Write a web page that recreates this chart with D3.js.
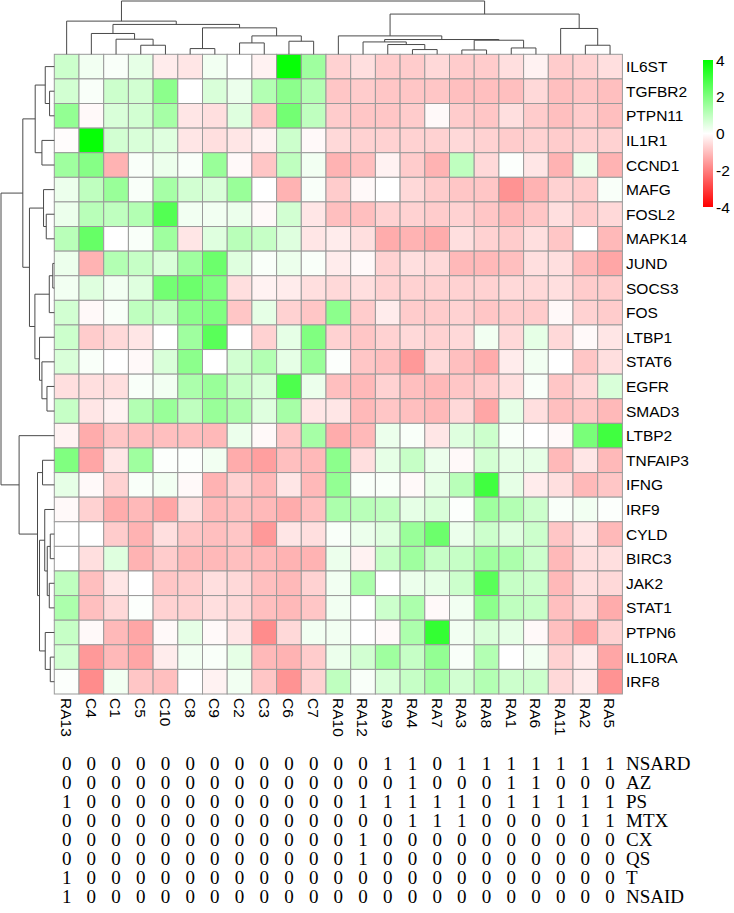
<!DOCTYPE html>
<html><head><meta charset="utf-8">
<script src="https://cdn.jsdelivr.net/npm/d3@7"></script>
<style>body{margin:0;background:#fff}svg{display:block}</style>
</head><body>
<script>
// ---------- data ----------
const samples = ["RA13","C4","C1","C5","C10","C8","C9","C2","C3","C6","C7","RA10","RA12","RA9","RA4","RA7","RA3","RA8","RA1","RA6","RA11","RA2","RA5"];
const genes = ["IL6ST","TGFBR2","PTPN11","IL1R1","CCND1","MAFG","FOSL2","MAPK14","JUND","SOCS3","FOS","LTBP1","STAT6","EGFR","SMAD3","LTBP2","TNFAIP3","IFNG","IRF9","CYLD","BIRC3","JAK2","STAT1","PTPN6","IL10RA","IRF8"];

const vIL6ST  = [0.8,0.2,0.1,0.4,-0.3,-0.4,0.2,0.0,-0.2,3.9,1.5, -0.7,-0.5,-0.8,-0.8,-0.6,-0.8,-0.8,-0.5,-0.2,-0.8,-0.7,-0.5];
const vTGFBR2 = [0.7,0.1,0.8,0.7,1.8,0.0,0.6,0.3,1.2,1.8,1.2, -0.9,-0.8,-0.9,-0.9,-0.9,-1.0,-1.0,-1.0,-0.6,-1.0,-0.9,-1.0];
const vPTPN11 = [1.7,-0.1,0.6,0.7,1.4,-0.4,-0.5,0.5,-0.9,2.2,1.0, -0.8,-0.9,-0.9,-0.8,-0.1,-0.8,-0.9,-0.5,-0.8,-1.0,-0.8,-1.0];
const vIL1R1  = [-0.05,3.9,0.7,0.6,0.5,-0.4,-0.5,-0.4,-0.2,0.8,-0.1, -0.6,-0.7,-0.7,-0.7,-0.7,-0.6,-0.7,-0.8,-0.7,-0.8,-0.7,-0.7];
const vCCND1  = [1.5,1.9,-1.2,0.1,0.3,0.1,1.6,-0.1,-0.9,1.0,0.2, -1.2,-1.0,-0.2,-0.8,-1.2,1.0,-0.6,0.05,-0.4,-1.2,0.3,-1.2];
const vMAFG   = [0.3,1.0,1.6,0.1,1.4,0.7,0.6,1.6,0.0,-1.2,0.1, -0.8,-0.1,0.0,-0.6,-0.8,-0.9,-0.9,-1.7,-1.2,-0.7,-0.8,0.1];
const vFOSL2  = [0.3,1.1,1.0,1.2,2.7,0.2,0.2,0.3,-0.1,0.7,-0.4, -1.0,-1.0,-0.7,-0.7,-0.8,-0.7,-0.9,-1.1,-0.9,-0.5,-0.8,-0.6];
const vMAPK14 = [1.1,2.4,0.0,0.1,1.5,-0.4,0.5,1.1,0.9,0.5,-0.4, -0.3,-0.5,-1.3,-1.2,-1.3,-0.5,-0.7,-0.8,-0.5,-0.9,0.0,-1.1];
const vJUND   = [0.3,-1.2,1.2,0.9,0.6,1.5,2.3,0.5,0.1,0.3,0.1, -0.3,-0.1,-0.7,-0.5,-0.6,-1.1,-1.1,-1.0,-0.5,-0.5,-1.1,-1.4];
const vSOCS3  = [0.2,0.5,0.2,0.5,2.2,2.3,2.0,-0.5,-0.2,-0.3,-0.5, -0.6,-0.5,-0.7,-0.7,-0.7,-0.7,-0.7,-0.6,-0.6,-0.5,-0.8,-0.8];
const vFOS    = [0.7,-0.1,0.1,1.0,0.9,1.8,2.0,-0.9,0.4,-0.7,-0.9, 1.8,-0.8,-0.3,-0.8,-0.8,-0.7,-0.9,-0.8,-0.8,-0.1,-0.7,-0.8];
const vLTBP1  = [0.8,-0.8,-0.6,-0.4,0.0,1.5,2.6,0.0,-0.7,0.4,2.0, -0.7,-0.9,-0.7,-0.6,-0.7,-0.6,0.2,-0.6,0.4,-0.6,-0.1,-0.4];
const vSTAT6  = [0.6,0.1,0.0,-0.1,0.6,1.8,0.0,0.7,1.2,0.4,1.6, 0.05,-0.9,-1.0,-1.6,-0.6,-1.0,-1.3,-0.3,0.2,0.0,-0.9,-0.5];
const vEGFR   = [-0.5,-0.5,-0.5,0.1,0.2,1.3,1.6,0.9,0.6,2.8,0.3, -1.0,-1.1,-0.7,-1.0,-1.1,-0.9,-0.8,-0.5,0.1,-0.9,-0.6,0.6];
const vSMAD3  = [0.9,-0.4,-0.2,1.2,1.6,1.0,1.6,1.3,0.5,1.4,-0.4, -0.4,-1.1,-0.9,-1.0,-1.1,-0.6,-1.4,0.4,-0.5,-1.0,-0.9,-1.1];
const vLTBP2  = [-0.2,-1.3,-0.9,-1.0,-1.0,-1.0,-1.1,0.3,-0.1,-0.9,1.4, -1.3,-1.1,0.3,0.1,-0.4,0.5,0.8,0.1,0.0,-0.1,2.1,3.0];
const vTNFAIP3= [2.0,-1.4,-0.4,1.5,0.05,0.05,0.2,-1.3,-1.5,-1.0,-1.1, 1.8,-0.5,0.4,0.9,0.3,-0.1,0.7,0.4,0.4,-1.1,-0.4,-1.1];
const vIFNG   = [0.4,-0.1,-0.7,0.1,0.2,-0.1,-1.2,-0.7,-1.1,-0.4,-1.1, 1.7,0.1,0.1,-0.1,0.4,1.1,3.0,0.4,-0.3,-0.5,-1.1,-0.9];
const vIRF9   = [-0.1,-0.7,-1.3,-1.1,-1.4,-0.5,-1.1,-1.0,-1.1,-1.3,-1.0, 1.3,1.1,1.0,0.4,0.6,0.05,1.5,1.2,0.8,0.1,0.2,0.05];
const vCYLD   = [0.0,0.0,-0.8,-1.2,-0.5,-0.9,-1.0,-0.9,-1.6,-0.4,-0.5, 0.1,0.3,0.5,1.6,2.3,0.3,0.8,0.5,0.8,-0.9,-0.4,-1.1];
const vBIRC3  = [0.0,-0.5,0.5,-1.2,-0.8,-1.1,-1.1,-1.0,-1.1,-1.2,-1.2, 0.3,-0.2,0.9,1.5,0.9,0.9,1.5,1.3,0.8,-1.1,-0.5,-0.5];
const vJAK2   = [1.0,-1.0,-0.4,0.0,-0.9,-0.8,-0.5,-0.6,-1.0,-1.1,-0.7, 0.2,1.3,0.0,0.3,0.4,0.8,2.6,0.9,0.8,-1.1,-0.5,-0.6];
const vSTAT1  = [1.3,-1.0,-0.6,0.05,-0.7,-0.7,-0.5,-0.6,-1.0,-1.1,-0.9, 0.2,0.0,0.8,1.3,-0.1,0.2,1.8,1.0,0.9,-1.0,-0.6,-1.3];
const vPTPN6  = [0.9,-0.1,-1.1,-1.4,-0.1,0.4,-0.1,-0.4,-1.8,-0.6,0.2, 0.2,0.0,-0.1,1.3,3.2,0.2,0.6,0.4,-0.1,-1.0,-1.5,-0.7];
const vIL10RA = [0.7,-1.6,-1.1,-1.4,-0.3,0.2,0.1,0.4,-1.1,-1.2,-0.8, 0.3,0.7,1.5,0.9,1.7,0.1,1.2,0.0,0.2,-0.7,-0.3,-1.4];
const vIRF8   = [0.05,-1.8,0.2,-0.9,-1.0,0.0,-0.2,0.2,-0.9,-1.7,-0.7, 1.0,0.1,0.6,0.9,1.4,0.7,1.2,0.8,0.8,-0.6,-0.3,-1.7];

// column clustering (hclust-style merges: string = leaf, number = earlier merge)
const colMerge = [["RA4","RA7"],["RA3","RA8"],["C8","C9"],["RA1","RA6"],["C5","C10"],["RA2","RA5"],["RA9",0],["C2","C3"],["RA12",6],["C6","C7"],[1,3],[8,10],["C1",4],[7,9],["RA10",11],["C4",12],["RA11",5],[2,13],[15,17],["RA13",18],[14,16],[19,20]];
const colHeight = [4.7,4.3,5.7,6.3,9,9,9.7,11.3,12.3,13,14,14.7,15,18.3,18.3,20.7,25.7,26.3,29.7,33,40,53];
// row clustering
const rowMerge = [["JUND","SOCS3"],["CYLD","BIRC3"],["IL10RA","IRF8"],["TGFBR2","PTPN11"],[0,"FOS"],["JAK2","STAT1"],[1,5],["EGFR","SMAD3"],["FOSL2","MAPK14"],["IL6ST",3],["PTPN6",2],["IRF9",6],["MAFG",8],["TNFAIP3","IFNG"],["IL1R1","CCND1"],["STAT6",7],["LTBP1",15],[11,10],[13,17],[9,14],[4,16],[12,20],[19,21],["LTBP2",18],[22,23]];
const rowHeight = [1.5,4,4,4.7,5,5,7,7.3,8,9,9,9.5,10.7,11.7,12.3,12.3,14.7,14.7,16.7,19,19.3,24.7,31.3,35,53];

// legend ticks
const legendTicks = [4,2,0,-2,-4];

// annotation table
const tableLabels = ["NSARD","AZ","PS","MTX","CX","QS","T","NSAID"];
const tNSARD = [0,0,0,0,0,0,0,0,0,0,0,0,0,1,1,0,1,1,1,1,1,1,1];
const tAZ    = [0,0,0,0,0,0,0,0,0,0,0,0,0,0,1,0,0,0,1,1,0,0,0];
const tPS    = [1,0,0,0,0,0,0,0,0,0,0,0,1,1,1,1,1,0,1,1,1,1,1];
const tMTX   = [0,0,0,0,0,0,0,0,0,0,0,0,0,0,1,1,1,0,0,0,0,1,1];
const tCX    = [0,0,0,0,0,0,0,0,0,0,0,0,1,0,0,0,0,0,0,0,0,0,0];
const tQS    = [0,0,0,0,0,0,0,0,0,0,0,0,1,0,0,0,0,0,0,0,0,0,0];
const tT     = [1,0,0,0,0,0,0,0,0,0,0,0,0,0,0,0,0,0,0,0,0,0,0];
const tNSAID = [1,0,0,0,0,0,0,0,0,0,0,0,0,0,0,0,0,0,0,0,0,0,0];

// ---------- build ----------
const matrix = [vIL6ST,vTGFBR2,vPTPN11,vIL1R1,vCCND1,vMAFG,vFOSL2,vMAPK14,vJUND,vSOCS3,vFOS,vLTBP1,vSTAT6,vEGFR,vSMAD3,vLTBP2,vTNFAIP3,vIFNG,vIRF9,vCYLD,vBIRC3,vJAK2,vSTAT1,vPTPN6,vIL10RA,vIRF8];
const tableRows = [tNSARD,tAZ,tPS,tMTX,tCX,tQS,tT,tNSAID];

const W = 734, H = 913;
const svg = d3.select("body").append("svg").attr("width", W).attr("height", H);

const x = d3.scaleBand().domain(samples).range([54.3, 622.4]).paddingInner(0).paddingOuter(0);
const y = d3.scaleBand().domain(genes).range([54.3, 694]).paddingInner(0).paddingOuter(0);
const color = d3.scaleLinear().domain([-4, 0, 4]).range(["#ff0000", "#ffffff", "#00ff00"]).clamp(true);

const cells = [];
matrix.forEach((row, i) => row.forEach((v, j) => cells.push({g: genes[i], s: samples[j], v})));

svg.append("g").selectAll("rect").data(cells).join("rect")
  .attr("x", d => x(d.s)).attr("y", d => y(d.g))
  .attr("width", x.bandwidth()).attr("height", y.bandwidth())
  .attr("fill", d => color(d.v))
  .attr("stroke", "#9a9a9a").attr("stroke-width", 1);

// dendrograms
function treeSegments(merges, heights, leafPos) {
  const nodes = [];
  const segs = [];
  merges.forEach((m, i) => {
    const kids = m.map(k => typeof k === "string" ? {pos: leafPos(k), h: 0} : nodes[k]);
    nodes[i] = {pos: (kids[0].pos + kids[1].pos) / 2, h: heights[i]};
    segs.push({a: kids[0], b: kids[1], h: heights[i]});
  });
  return segs;
}
const colH = d3.scaleLinear().domain([0, 53]).range([54.3, 1]);
const rowH = d3.scaleLinear().domain([0, 53]).range([54.3, 1]);

const colSegs = treeSegments(colMerge, colHeight, k => x(k) + x.bandwidth() / 2);
svg.append("g").selectAll("path").data(colSegs).join("path")
  .attr("d", d => `M${d.a.pos},${colH(d.a.h)}V${colH(d.h)}H${d.b.pos}V${colH(d.b.h)}`)
  .attr("fill", "none").attr("stroke", "#4a4a4a").attr("stroke-width", 1);

const rowSegs = treeSegments(rowMerge, rowHeight, k => y(k) + y.bandwidth() / 2);
svg.append("g").selectAll("path").data(rowSegs).join("path")
  .attr("d", d => `M${rowH(d.a.h)},${d.a.pos}H${rowH(d.h)}V${d.b.pos}H${rowH(d.b.h)}`)
  .attr("fill", "none").attr("stroke", "#4a4a4a").attr("stroke-width", 1);

// row labels
svg.append("g").selectAll("text").data(genes).join("text")
  .attr("x", 626).attr("y", d => y(d) + y.bandwidth() / 2)
  .attr("dy", "0.36em")
  .attr("font-family", "'Liberation Sans', Arial, sans-serif").attr("font-size", 15.5)
  .attr("fill", "#000").text(d => d);

// column labels
svg.append("g").selectAll("text").data(samples).join("text")
  .attr("transform", d => `translate(${x(d) + x.bandwidth() / 2},698) rotate(90)`)
  .attr("dy", "0.36em")
  .attr("font-family", "'Liberation Sans', Arial, sans-serif").attr("font-size", 15.5)
  .attr("fill", "#000").text(d => d);

// legend
const defs = svg.append("defs");
const grad = defs.append("linearGradient").attr("id", "lg").attr("x1", 0).attr("y1", 0).attr("x2", 0).attr("y2", 1);
d3.range(0, 1.0001, 0.05).forEach(t => {
  grad.append("stop").attr("offset", t).attr("stop-color", color(4 - 8 * t));
});
const lg = d3.scaleLinear().domain([-4, 4]).range([207, 60]);
svg.append("rect").attr("x", 703).attr("y", lg(4)).attr("width", 10)
  .attr("height", lg(-4) - lg(4)).attr("fill", "url(#lg)");
svg.append("g").selectAll("text").data(legendTicks).join("text")
  .attr("x", 716).attr("y", d => lg(d)).attr("dy", "0.36em")
  .attr("font-family", "'Liberation Sans', Arial, sans-serif").attr("font-size", 15.5)
  .text(d => d);

// annotation table
const ty = d3.scaleBand().domain(tableLabels).range([754, 906]);
tableRows.forEach((vals, r) => {
  const yy = ty(tableLabels[r]) + ty.bandwidth() / 2;
  const g = svg.append("g");
  g.selectAll("text").data(vals).join("text")
    .attr("x", (d, j) => x(samples[j]) + x.bandwidth() / 2)
    .attr("y", yy).attr("dy", "0.35em")
    .attr("text-anchor", "middle")
    .attr("font-family", "'Liberation Serif', 'Times New Roman', serif").attr("font-size", 19)
    .text(d => d);
  g.append("text").attr("x", 626).attr("y", yy).attr("dy", "0.35em")
    .attr("font-family", "'Liberation Serif', 'Times New Roman', serif").attr("font-size", 19)
    .text(tableLabels[r]);
});
</script>
</body></html>
